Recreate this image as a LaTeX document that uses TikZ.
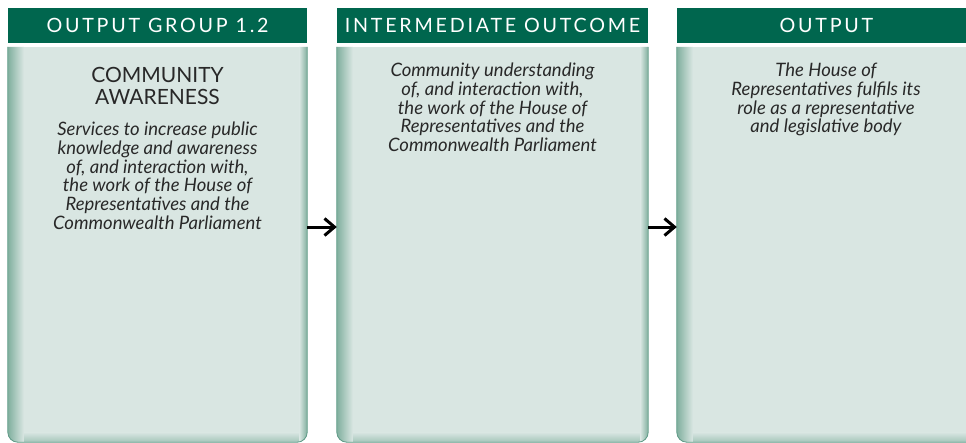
\documentclass[tikz,border=0pt]{standalone}
\usepackage{fontspec}
\setmainfont{Lato}
\newfontfamily\headfont[LetterSpace=14]{Lato}
\usetikzlibrary{arrows.meta}
\definecolor{headgreen}{RGB}{0,102,78}
\definecolor{panelfill}{RGB}{217,230,226}
\definecolor{paneledge}{RGB}{128,175,158}
\definecolor{panelline}{RGB}{95,155,135}
\definecolor{bodytext}{RGB}{40,40,40}

\begin{document}
\begin{tikzpicture}[x=1pt,y=-1pt]
  \tikzstyle{every node}+=[inner sep=0pt]
  \tikzstyle{head}=[fill=headgreen, text=white, minimum height=35pt, font=\headfont\fontsize{19.7}{22}\selectfont]
  \tikzstyle{panel}=[minimum height=395pt]
  \tikzstyle{title}=[text=bodytext, align=center, font=\fontsize{21}{22.5}\selectfont]
  \tikzstyle{blurb}=[text=bodytext, align=center, font=\itshape\fontsize{18.5}{18.7}\selectfont]
  \tikzstyle{flow}=[-{Straight Barb[length=10pt,width=17pt]}, line width=3pt, black]
  \fill[white] (0,0) rectangle (966,442);
  \clip (0,0) rectangle (966,442);
  % header bar and shaded panel of each column
  \foreach \n/\xa/\xb/\txt in {1/8/307/{OUTPUT GROUP 1.2}, 2/337/648/{INTERMEDIATE OUTCOME}, 3/677/976/OUTPUT}{
    \node[head, minimum width=\xb-\xa] (h\n) at ({(\xa+\xb)/2},25.5) {\txt};
    \node[panel, minimum width=\xb-\xa] (b\n) at ({(\xa+\xb)/2},244.5) {};
    \begin{scope}
      \clip (b\n.north west) [rounded corners=10pt] -- (b\n.south west) -- (b\n.south east) [sharp corners] -- (b\n.north east) -- cycle;
      \fill[panelfill] (b\n.north west) rectangle (b\n.south east);
      \shade[top color=panelfill, bottom color=paneledge!60!panelfill] ([yshift=10pt]b\n.south west) rectangle (b\n.south east);
      \shade[left color=paneledge, right color=panelfill] (b\n.north west) rectangle ([xshift=16pt]b\n.south west);
      \shade[left color=panelfill, right color=paneledge] ([xshift=-8pt]b\n.north east) rectangle (b\n.south east);
    \end{scope}
    \draw[panelline, line width=0.8pt] (b\n.north west) [rounded corners=10pt] -- (b\n.south west) -- (b\n.south east) [sharp corners] -- (b\n.north east);
  }
  % texts
  \node[title, anchor=north] (t1) at (157.5,67) {COMMUNITY\\AWARENESS};
  \node[blurb, anchor=north] (d1) at (157.5,122) {Services to increase public\\knowledge and awareness\\of, and interaction with,\\the work of the House of\\Representatives and the\\Commonwealth Parliament};
  \node[blurb, anchor=north] (d2) at (492.5,63) {Community understanding\\of, and interaction with,\\the work of the House of\\Representatives and the\\Commonwealth Parliament};
  \node[blurb, anchor=north] (d3) at (826,63) {The House of\\Representatives fulfils its\\role as a representative\\and legislative body};
  % arrows between columns
  \draw[flow] ([yshift=17.5pt]b1.east) -- ([yshift=17.5pt]b2.west);
  \draw[flow] ([yshift=17.5pt]b2.east) -- ([yshift=17.5pt]b3.west);
\end{tikzpicture}
\end{document}
